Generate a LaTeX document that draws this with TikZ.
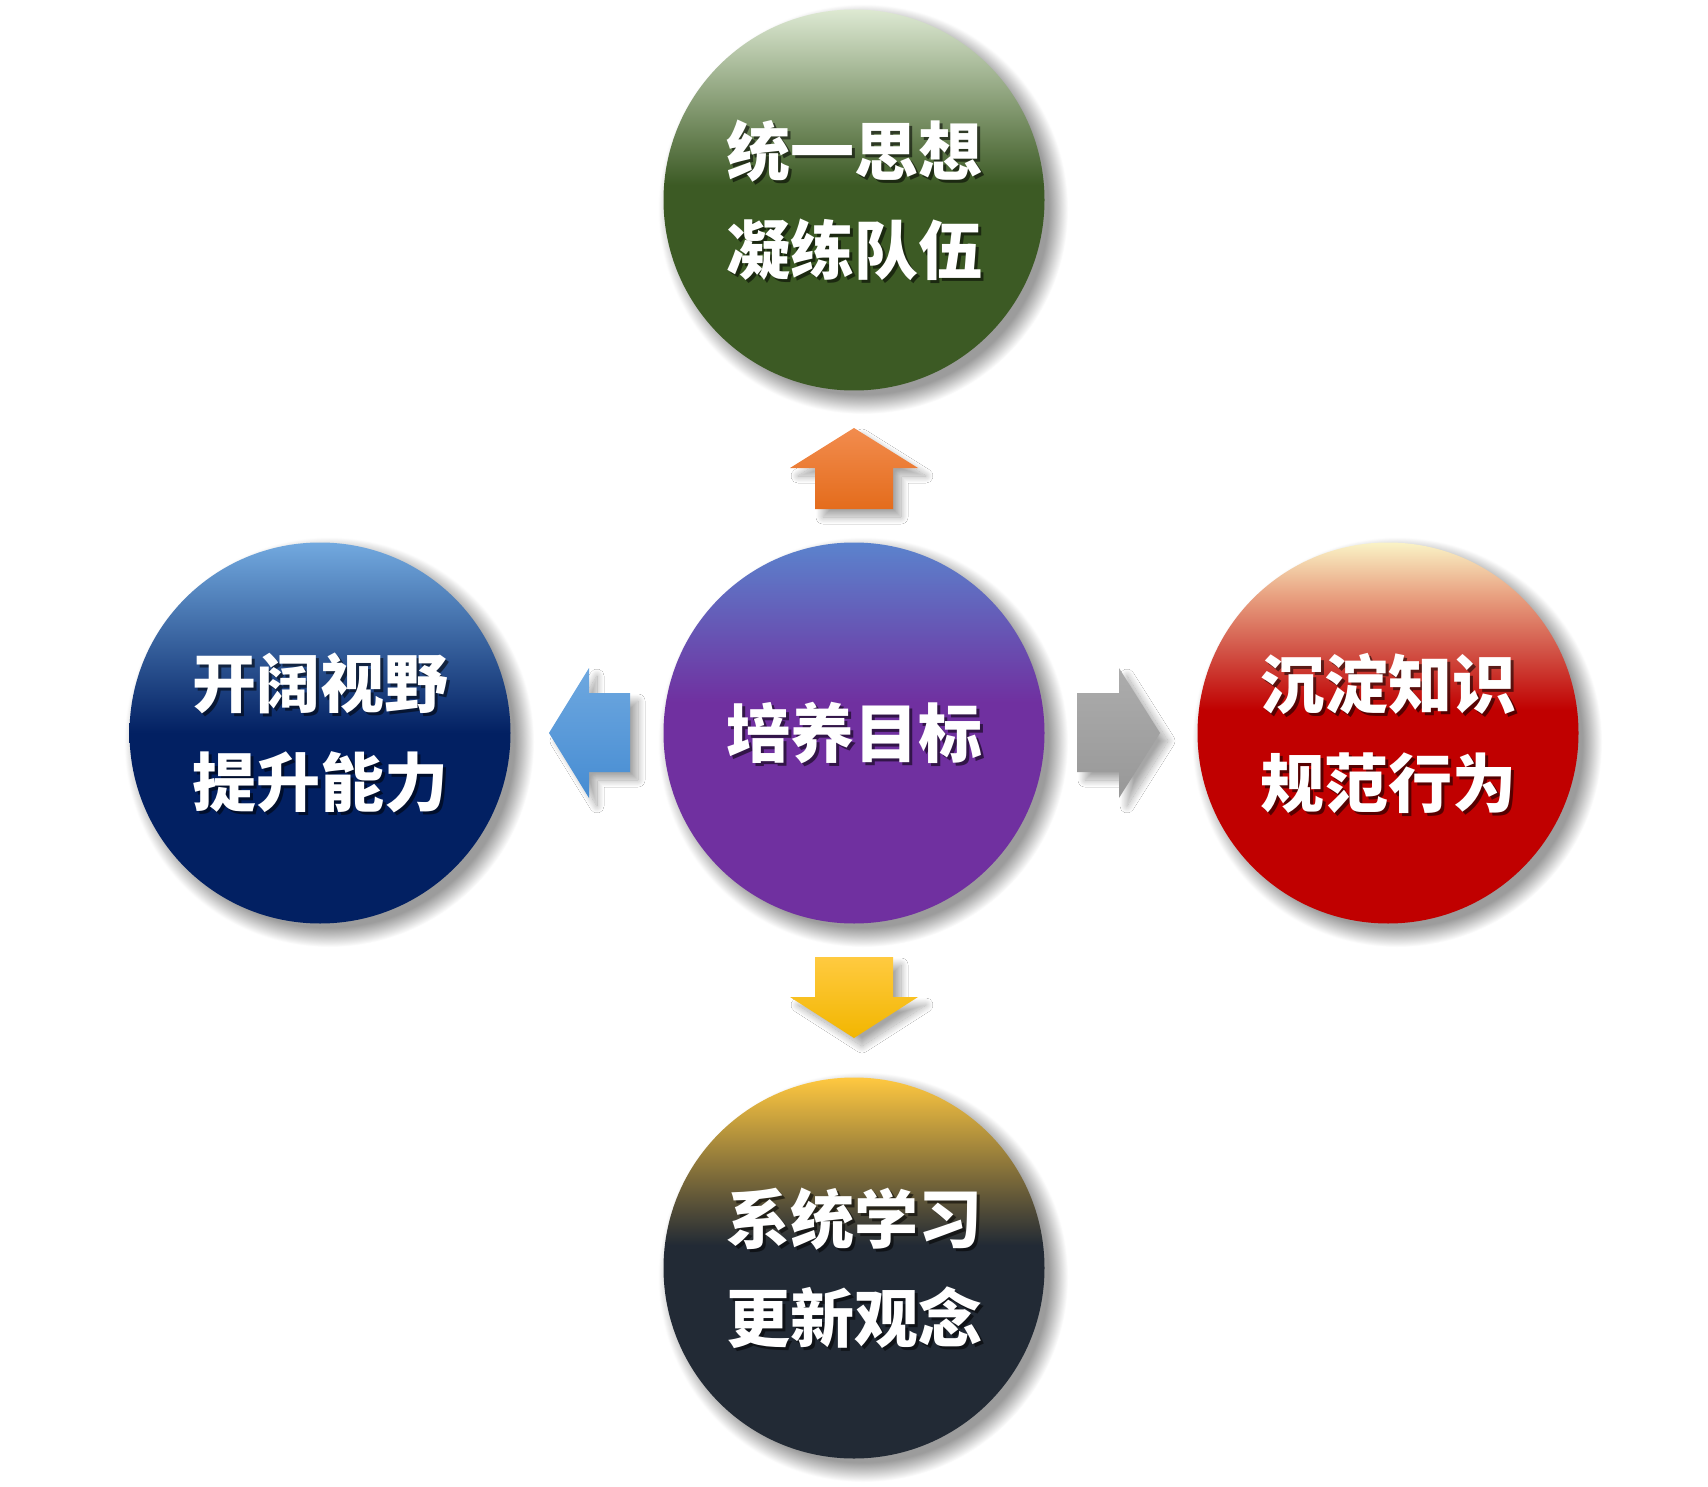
\documentclass[tikz,border=0pt]{standalone}
\usepackage{fontspec}
\newfontfamily\cjk{Noto Sans CJK SC}
\usetikzlibrary{shadows.blur}
\definecolor{gDark}{HTML}{3C5A24}\definecolor{gLight}{HTML}{DDE9D2}
\definecolor{pDark}{HTML}{7030A0}\definecolor{pLight}{HTML}{5B83CD}
\definecolor{bDark}{HTML}{022062}\definecolor{bLight}{HTML}{72A9DF}
\definecolor{rDark}{HTML}{C00000}\definecolor{rMid}{HTML}{D25548}\definecolor{rPeach}{HTML}{E8A080}\definecolor{rLight}{HTML}{FAF3C6}
\definecolor{kDark}{HTML}{222A35}\definecolor{kLight}{HTML}{FFC840}
\definecolor{oTop}{HTML}{F28C4E}\definecolor{oBot}{HTML}{E46C1C}
\definecolor{yTop}{HTML}{FFCA40}\definecolor{yBot}{HTML}{F2B600}
\definecolor{lTop}{HTML}{6EA8E0}\definecolor{lBot}{HTML}{468CD2}
\definecolor{aTop}{HTML}{ACACAC}\definecolor{aBot}{HTML}{989898}
\definecolor{shGray}{HTML}{9C9C9C}
\pgfdeclareverticalshading{greensh}{100bp}{color(0bp)=(gDark); color(52bp)=(gDark); color(75bp)=(gLight); color(100bp)=(gLight)}
\pgfdeclareverticalshading{purplesh}{100bp}{color(0bp)=(pDark); color(54bp)=(pDark); color(75bp)=(pLight); color(100bp)=(pLight)}
\pgfdeclareverticalshading{bluesh}{100bp}{color(0bp)=(bDark); color(50bp)=(bDark); color(75bp)=(bLight); color(100bp)=(bLight)}
\pgfdeclareverticalshading{redsh}{100bp}{color(0bp)=(rDark); color(53bp)=(rDark); color(61bp)=(rMid); color(68bp)=(rPeach); color(75bp)=(rLight); color(100bp)=(rLight)}
\pgfdeclareverticalshading{darksh}{100bp}{color(0bp)=(kDark); color(53bp)=(kDark); color(75bp)=(kLight); color(100bp)=(kLight)}
\pgfdeclareradialshading{ballshadow}{\pgfpoint{0bp}{0bp}}{color(0bp)=(shGray); color(22.6bp)=(shGray); color(23.6bp)=(shGray!60!white); color(25bp)=(white); color(50bp)=(white)}
\tikzset{
  ball/.style={circle, minimum size=381pt, inner sep=0pt, draw=none},
  ballshade/.style={shading=ballshadow},
  lbl/.style={text=white, font=\cjk\bfseries\fontsize{64}{99}\selectfont, align=center, inner sep=0pt},
  lblshadow/.style={lbl, text=black, text opacity=0.55},
  blockarrow/.style={draw=none,
    blur shadow={shadow xshift=8pt, shadow yshift=-8pt, shadow blur radius=7pt, shadow blur steps=24, shadow opacity=35}}
}
\begin{document}
\begin{tikzpicture}[x=1pt,y=-1pt]
\fill[white] (0,0) rectangle (1708,1487);
\useasboundingbox (0,0) rectangle (1708,1487);

\coordinate (pTop) at (854,200);
\coordinate (pCenter) at (854,733);
\coordinate (pLeft) at (320,733);
\coordinate (pRight) at (1388,733);
\coordinate (pBottom) at (854,1268);

% soft shadows of the circles
\foreach \p in {pTop,pCenter,pLeft,pRight,pBottom}
  \path[ballshade] ([shift={(9,9)}]\p) circle (205);

% circles
\node[ball, shading=greensh]  (top)    at (pTop)    {};
\node[ball, shading=purplesh] (center) at (pCenter) {};
\node[ball, shading=bluesh]   (left)   at (pLeft)   {};
\node[ball, shading=redsh]    (right)  at (pRight)  {};
\node[ball, shading=darksh]   (bottom) at (pBottom) {};

% labels
\node[lblshadow] (topS)    at ([shift={(3,3)}]top.center)    {统一思想\\凝练队伍};
\node[lbl]       (topT)    at (top.center)                   {统一思想\\凝练队伍};
\node[lblshadow] (centerS) at ([shift={(3,3)}]center.center) {培养目标};
\node[lbl]       (centerT) at (center.center)                {培养目标};
\node[lblshadow] (leftS)   at ([shift={(3,3)}]left.center)   {开阔视野\\提升能力};
\node[lbl]       (leftT)   at (left.center)                  {开阔视野\\提升能力};
\node[lblshadow] (rightS)  at ([shift={(3,3)}]right.center)  {沉淀知识\\规范行为};
\node[lbl]       (rightT)  at (right.center)                 {沉淀知识\\规范行为};
\node[lblshadow] (bottomS) at ([shift={(3,3)}]bottom.center) {系统学习\\更新观念};
\node[lbl]       (bottomT) at (bottom.center)                {系统学习\\更新观念};

% block arrows
\path[blockarrow, top color=oTop, bottom color=oBot]
  (854,428) -- (918,468) -- (893,468) -- (893,509) -- (815,509) -- (815,468) -- (790,468) -- cycle;
\path[blockarrow, top color=yTop, bottom color=yBot]
  (815,957) -- (893,957) -- (893,997) -- (918,997) -- (854,1038) -- (790,997) -- (815,997) -- cycle;
\path[blockarrow, top color=lTop, bottom color=lBot]
  (549,733) -- (589,668) -- (589,693) -- (630,693) -- (630,772) -- (589,772) -- (589,798) -- cycle;
\path[blockarrow, top color=aTop, bottom color=aBot]
  (1077,693) -- (1119,693) -- (1119,668) -- (1160,733) -- (1119,798) -- (1119,772) -- (1077,772) -- cycle;
\end{tikzpicture}
\end{document}
